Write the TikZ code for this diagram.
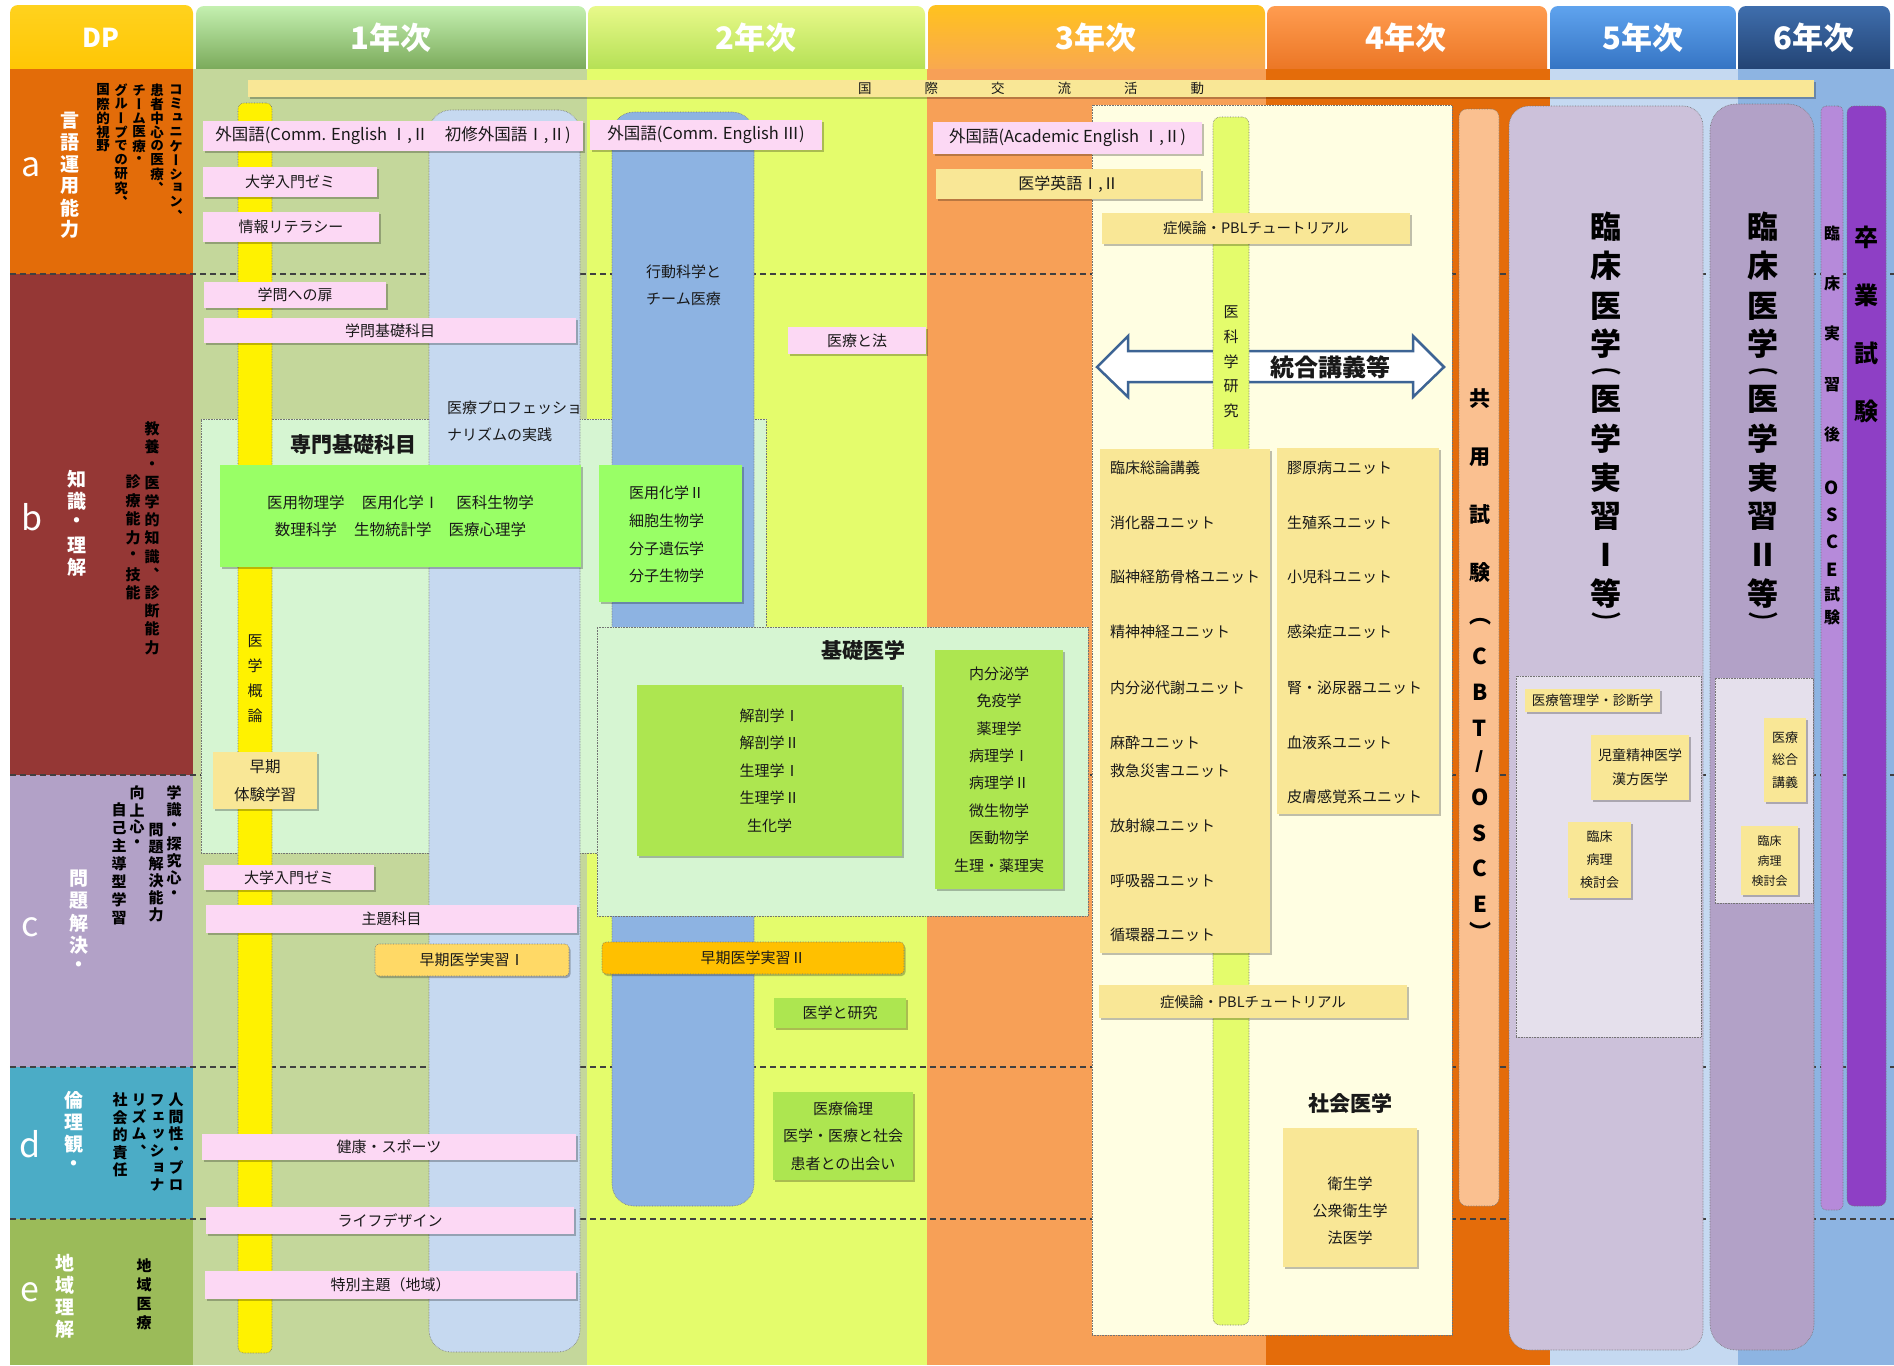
\documentclass[tikz,border=0pt]{standalone}
\usepackage{fontspec}
\setmainfont{Noto Sans CJK JP}
\newfontfamily\jpv[RawFeature={+vert}]{Noto Sans CJK JP}
\usetikzlibrary{shadows}
\definecolor{hDPa}{HTML}{FFD21E}\definecolor{hDPb}{HTML}{FFC400}
\definecolor{hOa}{HTML}{C4F0B0}\definecolor{hOb}{HTML}{6E9E4C}
\definecolor{hTa}{HTML}{E8F98A}\definecolor{hTb}{HTML}{ACDC4C}
\definecolor{hRa}{HTML}{FFC21E}\definecolor{hRb}{HTML}{F8A458}
\definecolor{hFa}{HTML}{FF9C50}\definecolor{hFb}{HTML}{E8701E}
\definecolor{hVa}{HTML}{5FA3EE}\definecolor{hVb}{HTML}{2E6CBC}
\definecolor{hXa}{HTML}{3F6EAD}\definecolor{hXb}{HTML}{1E3C6A}
\definecolor{rA}{HTML}{E36C09}
\definecolor{rB}{HTML}{953735}
\definecolor{rC}{HTML}{B2A1C7}
\definecolor{rD}{HTML}{4BACC6}
\definecolor{rE}{HTML}{9BBB59}
\definecolor{cOne}{HTML}{C4D79B}
\definecolor{cTwo}{HTML}{E4FC6C}
\definecolor{cThree}{HTML}{F7A057}
\definecolor{cFour}{HTML}{E46C0A}
\definecolor{cFive}{HTML}{C5D9F1}
\definecolor{cSix}{HTML}{8DB4E2}
\definecolor{pinkb}{HTML}{FCD8F4}
\definecolor{yelb}{HTML}{F9E796}
\definecolor{grnA}{HTML}{99FF66}
\definecolor{grnB}{HTML}{ADE650}
\definecolor{pnl}{HTML}{D6F5D2}
\definecolor{cream}{HTML}{FFFEE2}
\definecolor{blueA}{HTML}{C6D9F0}
\definecolor{blueB}{HTML}{8DB3E2}
\definecolor{oraA}{HTML}{FFD966}
\definecolor{oraB}{HTML}{FFC000}
\definecolor{peach}{HTML}{FAC090}
\definecolor{lavF}{HTML}{CCC1DA}
\definecolor{lavIn}{HTML}{E5E0EC}
\definecolor{lavS}{HTML}{B2A1C7}
\definecolor{osceC}{HTML}{B68ADA}
\definecolor{gradC}{HTML}{8E3FC5}
\definecolor{arrowc}{HTML}{3D6494}
\tikzset{
 sh/.style={drop shadow={shadow xshift=1.5pt,shadow yshift=-2pt,opacity=0.25,fill=black}},
 tx/.style={inner sep=0pt, text=black!90, align=center},
 bxs/.style={tx, font=\fontsize{15}{27.5}\selectfont},
 pinkbox/.style={bxs, fill=pinkb, sh},
 yelbox/.style={bxs, fill=yelb, sh},
 gAbox/.style={bxs, fill=grnA, sh},
 gBbox/.style={bxs, fill=grnB, sh},
 dotb/.style={draw=black!55, densely dotted, line width=0.6pt},
 pnlbox/.style={fill=pnl, dotb, inner sep=0pt},
 colbox/.style={dotb, inner sep=0pt},
 hdr/.style={inner sep=0pt, text=white, font=\fontsize{31}{31}\selectfont\bfseries},
 letr/.style={inner sep=0pt, text=white, font=\fontsize{34}{34}\selectfont},
 wv/.style={inner sep=0pt, text=white, font=\jpv\bfseries\fontsize{19}{19}\selectfont},
 bva/.style={inner sep=0pt, text=black, font=\jpv\bfseries\fontsize{13.5}{14}\selectfont},
 bvb/.style={inner sep=0pt, text=black, font=\jpv\bfseries\fontsize{15}{16}\selectfont},
 rv/.style={inner sep=0pt, text=black!90, font=\jpv\fontsize{15}{16}\selectfont},
 ttl/.style={inner sep=0pt, text=black!90, font=\fontsize{21}{21}\selectfont\bfseries},
 bigv/.style={inner sep=0pt, text=black, font=\jpv\bfseries\fontsize{31}{31}\selectfont},
 bigp/.style={inner sep=0pt, text=black, font=\jpv\bfseries\fontsize{20}{20}\selectfont},
 cbtv/.style={inner sep=0pt, text=black, font=\jpv\bfseries\fontsize{21}{21}\selectfont},
 cbtl/.style={inner sep=0pt, text=black, font=\jpv\bfseries\fontsize{22}{22}\selectfont},
 oscv/.style={inner sep=0pt, text=black, font=\jpv\bfseries\fontsize{16}{16}\selectfont},
 oscl/.style={inner sep=0pt, text=black, font=\jpv\bfseries\fontsize{18}{18}\selectfont},
 gradv/.style={inner sep=0pt, text=black, font=\jpv\bfseries\fontsize{24}{24}\selectfont},
 tline/.style={inner sep=0pt, text=black!90, font=\fontsize{15}{18}\selectfont},
 engl/.style={font=\fontsize{16.5}{18}\selectfont},
 dashrow/.style={black!75, line width=1.1pt, dash pattern=on 6pt off 4pt},
}
\newcommand\bx[7]{\node[#2, minimum width={(#5-#3)*1pt}, minimum height={(#6-#4)*1pt}] (#1) at ({(#3+#5)/2},{(#4+#6)/2}) {#7};}
\newcommand\vstack[6]{\foreach \ch [count=\vi] in {#6}{\node[#1] (#2\vi) at (#3,{#4+(\vi-1)*#5}) {\ch};}}
\begin{document}
\begin{tikzpicture}[x=1pt,y=-1pt]
\useasboundingbox (0,0) rectangle (1894,1365);
\fill[white] (0,0) rectangle (1894,1365);
% headers
\shade[top color=hDPa,bottom color=hDPb,rounded corners=8pt] (10,5) rectangle (193,80);
\shade[top color=hOa,bottom color=hOb,rounded corners=8pt] (196,6) rectangle (586,80);
\shade[top color=hTa,bottom color=hTb,rounded corners=8pt] (588,6) rectangle (925,80);
\shade[top color=hRa,bottom color=hRb,rounded corners=8pt] (928,5) rectangle (1265,80);
\shade[top color=hFa,bottom color=hFb,rounded corners=8pt] (1267,6) rectangle (1547,80);
\shade[top color=hVa,bottom color=hVb,rounded corners=8pt] (1550,6) rectangle (1736,80);
\shade[top color=hXa,bottom color=hXb,rounded corners=8pt] (1738,6) rectangle (1890,80);
% DP rows
\fill[rA] (10,69) rectangle (193,274);
\fill[rB] (10,274) rectangle (193,775);
\fill[rC] (10,775) rectangle (193,1067);
\fill[rD] (10,1067) rectangle (193,1219);
\fill[rE] (10,1219) rectangle (193,1365);
% year columns
\fill[cOne] (193,69) rectangle (587,1365);
\fill[cTwo] (587,69) rectangle (927,1365);
\fill[cThree] (927,69) rectangle (1266,1365);
\fill[cFour] (1266,69) rectangle (1550,1365);
\fill[cFive] (1550,69) rectangle (1738,1365);
\fill[cSix] (1738,69) rectangle (1894,1365);
\foreach \yy in {274,775,1067,1219} \draw[dashrow] (10,\yy) -- (1894,\yy);
\node[hdr, font=\fontsize{26}{26}\selectfont\bfseries] (hdp) at (101,38) {DP};
\node[hdr] (hy1) at (391,38) {1年次};
\node[hdr] (hy2) at (756,38) {2年次};
\node[hdr] (hy3) at (1096,38) {3年次};
\node[hdr] (hy4) at (1406,38) {4年次};
\node[hdr] (hy5) at (1643,38) {5年次};
\node[hdr] (hy6) at (1814,38) {6年次};
% international bar
\bx{kokusai}{fill=yelb, sh, inner sep=0pt, text=black!90, font=\fontsize{13.5}{13.5}\selectfont}{248}{80}{1814}{97}{国\hspace{53pt}際\hspace{53pt}交\hspace{53pt}流\hspace{53pt}活\hspace{53pt}動}
% panels and columns
\bx{pan1}{pnlbox}{201}{419}{766}{853}{}
\bx{ybar}{colbox, fill=yellow, rounded corners=6pt}{238}{103}{272}{1353}{}
\bx{bcol1}{colbox, fill=blueA, rounded corners=22pt}{429}{110}{580}{1352}{}
\bx{bcol2}{colbox, fill=blueB, rounded corners=22pt}{612}{112}{754}{1206}{}
\bx{pan2}{pnlbox}{597}{627}{1088}{916}{}
\bx{crm}{colbox, fill=cream}{1092}{105}{1452}{1335}{}
\draw[draw=arrowc, line width=2.5pt, fill=white, line join=miter] (1097,367) -- (1128,336) -- (1128,351) -- (1413,351) -- (1413,336) -- (1444,367) -- (1413,397) -- (1413,382) -- (1128,382) -- (1128,397) -- cycle;
\bx{ikk}{colbox, fill=cTwo, rounded corners=7pt}{1213}{117}{1249}{1325}{}
\bx{cbtcol}{colbox, fill=peach, rounded corners=8pt}{1459}{109}{1499}{1206}{}
\bx{lav5col}{colbox, fill=lavF, rounded corners=20pt}{1509}{106}{1703}{1350}{}
\bx{lav5in}{colbox, fill=lavIn}{1516}{676}{1701}{1037}{}
\bx{lav6col}{colbox, fill=lavS, rounded corners=26pt}{1710}{104}{1814}{1350}{}
\bx{lav6in}{colbox, fill=lavIn}{1715}{678}{1813}{903}{}
\bx{oscecol}{colbox, fill=osceC, rounded corners=5pt}{1821}{106}{1843}{1210}{}
\bx{gradcol}{colbox, fill=gradC, rounded corners=7pt}{1847}{106}{1886}{1206}{}
% 1st year boxes
\bx{p1}{pinkbox, engl}{203}{121}{583}{151}{外国語(Comm. English Ⅰ,Ⅱ　初修外国語Ⅰ,Ⅱ)}
\bx{p2}{pinkbox}{203}{167}{377}{197}{大学入門ゼミ}
\bx{p3}{pinkbox}{203}{212}{379}{242}{情報リテラシー}
\bx{p4}{pinkbox}{204}{282}{386}{308}{学問への扉}
\bx{p5}{pinkbox}{204}{318}{576}{343}{学問基礎科目}
\bx{g1}{gAbox, font=\fontsize{15.5}{26.5}\selectfont}{220}{465}{581}{567}{医用物理学\hspace{1.1em}医用化学Ⅰ\hspace{1.1em}医科生物学\\数理科学\hspace{1.1em}生物統計学\hspace{1.1em}医療心理学}
\bx{y1}{yelbox, font=\fontsize{15.5}{28}\selectfont}{213}{752}{317}{809}{早期\\体験学習}
\bx{p6}{pinkbox}{204}{865}{374}{890}{大学入門ゼミ}
\bx{p7}{pinkbox}{206}{905}{577}{933}{主題科目}
\bx{o1}{bxs, fill=oraA, dotb, rounded corners=4pt, sh}{375}{944}{569}{976}{早期医学実習Ⅰ}
\bx{p8}{pinkbox}{202}{1134}{576}{1160}{健康・スポーツ}
\bx{p9}{pinkbox}{206}{1207}{574}{1234}{ライフデザイン}
\bx{p10}{pinkbox}{205}{1271}{576}{1299}{特別主題（地域）}
% 2nd year boxes
\bx{p11}{pinkbox, engl}{590}{120}{822}{150}{外国語(Comm. English Ⅲ)}
\bx{p12}{pinkbox}{788}{327}{926}{354}{医療と法}
\bx{g2}{gAbox}{599}{465}{742}{602}{}
\node[tx, align=left, anchor=west, font=\fontsize{15}{27.6}\selectfont] (g2t) at (629,534.5) {医用化学Ⅱ\\細胞生物学\\分子遺伝学\\分子生物学};
\bx{g3}{gBbox, font=\fontsize{15}{27.5}\selectfont}{637}{685}{902}{856}{解剖学Ⅰ\\解剖学Ⅱ\\生理学Ⅰ\\生理学Ⅱ\\生化学}
\bx{g4}{gBbox, font=\fontsize{15}{27.4}\selectfont}{935}{650}{1063}{889}{内分泌学\\免疫学\\薬理学\\病理学Ⅰ\\病理学Ⅱ\\微生物学\\医動物学\\生理・薬理実}
\bx{o2}{bxs, fill=oraB, dotb, rounded corners=4pt, sh}{602}{942}{904}{974}{早期医学実習Ⅱ}
\bx{g5}{gBbox}{774}{998}{906}{1028}{医学と研究}
\bx{g6}{gBbox, font=\fontsize{15}{27.5}\selectfont}{773}{1092}{913}{1180}{医療倫理\\医学・医療と社会\\患者との出会い}
% 3rd/4th year boxes
\bx{p13}{pinkbox, engl}{933}{122}{1202}{154}{外国語(Academic English Ⅰ,Ⅱ)}
\bx{y2}{yelbox, font=\fontsize{16}{18}\selectfont}{936}{169}{1201}{199}{医学英語Ⅰ,Ⅱ}
\bx{y3}{yelbox, font=\fontsize{14.5}{18}\selectfont}{1102}{213}{1410}{244}{症候論・PBLチュートリアル}
\bx{y4}{yelbox}{1100}{449}{1270}{953}{}
\bx{y5}{yelbox}{1277}{448}{1439}{814}{}
\foreach \t/\yy [count=\vi] in {臨床総論講義/468,消化器ユニット/523,脳神経筋骨格ユニット/577,精神神経ユニット/632,内分泌代謝ユニット/688,麻酔ユニット/743,救急災害ユニット/771,放射線ユニット/826,呼吸器ユニット/881,循環器ユニット/935}
  \node[tline, anchor=west] (ul\vi) at (1110,\yy) {\t};
\foreach \t/\yy [count=\vi] in {膠原病ユニット/468,生殖系ユニット/523,小児科ユニット/577,感染症ユニット/632,腎・泌尿器ユニット/688,血液系ユニット/743,皮膚感覚系ユニット/797}
  \node[tline, anchor=west] (ur\vi) at (1287,\yy) {\t};
\bx{y6}{yelbox, font=\fontsize{14.5}{18}\selectfont}{1099}{985}{1407}{1018}{症候論・PBLチュートリアル}
\bx{y7}{yelbox}{1283}{1128}{1417}{1267}{}
\node[tx, font=\fontsize{15}{27}\selectfont] (y7t) at (1350,1211) {衛生学\\公衆衛生学\\法医学};
% 5th/6th year boxes
\bx{y8}{yelbox, font=\fontsize{13.5}{16}\selectfont}{1525}{689}{1660}{712}{医療管理学・診断学}
\bx{y9}{yelbox, font=\fontsize{14}{24}\selectfont}{1591}{735}{1689}{800}{児童精神医学\\漢方医学}
\bx{y10}{yelbox, font=\fontsize{13}{23}\selectfont}{1568}{822}{1631}{898}{臨床\\病理\\検討会}
\bx{y11}{yelbox, font=\fontsize{13}{22.5}\selectfont}{1764}{718}{1806}{802}{医療\\総合\\講義}
\bx{y12}{yelbox, font=\fontsize{12}{20}\selectfont}{1741}{826}{1798}{895}{臨床\\病理\\検討会}
% titles
\node[ttl] (tsk) at (353,445) {専門基礎科目};
\node[ttl] (tki) at (863,650) {基礎医学};
\node[ttl] (tsh) at (1350,1103) {社会医学};
\node[ttl, font=\fontsize{24}{24}\selectfont\bfseries] (ttg) at (1330,367) {統合講義等};
\node[tline, anchor=west] (mp1) at (447,408) {医療プロフェッショ};
\node[tline, anchor=west] (mp2) at (447,435) {ナリズムの実践};
\node[tline, anchor=west] (kc1) at (646,272) {行動科学と};
\node[tline, anchor=west] (kc2) at (646,299) {チーム医療};
\vstack{rv}{igk}{255}{641}{25}{医,学,概,論}
\vstack{rv}{iks}{1231}{312}{24.8}{医,科,学,研,究}
% vertical labels right side
\vstack{cbtv}{cb}{1480}{399}{58}{共,用,試,験}
\foreach \ch/\yy [count=\vi] in {（/622,C/656,B/692,T/728,O/797,S/833,C/868,E/904,）/931}
  \node[cbtl] (cl\vi) at (1480,\yy) {\ch};
\node[cbtl] (clsl) at (1480,762) {/};
\foreach \ch/\yy [count=\vi] in {臨/227,床/266,医/306,学/344,医/399,学/439,実/478,習/516,Ⅰ/555,等/594}
  \node[bigv] (kf\vi) at (1606,\yy) {\ch};
\node[bigp] (kfpa) at (1606,372) {\scalebox{1.5}[1]{（}};
\node[bigp] (kfpb) at (1606,621) {\scalebox{1.5}[1]{）}};
\foreach \ch/\yy [count=\vi] in {臨/227,床/266,医/306,学/344,医/399,学/439,実/478,習/516,Ⅱ/555,等/594}
  \node[bigv] (ks\vi) at (1763,\yy) {\ch};
\node[bigp] (kspa) at (1763,372) {\scalebox{1.5}[1]{（}};
\node[bigp] (kspb) at (1763,621) {\scalebox{1.5}[1]{）}};
\foreach \ch/\yy [count=\vi] in {臨/233,床/283,実/333,習/385,後/434,試/594,験/617}
  \node[oscv] (os\vi) at (1832,\yy) {\ch};
\foreach \ch/\yy [count=\vi] in {O/488,S/515,C/542,E/570}
  \node[oscl] (ol\vi) at (1832,\yy) {\ch};
\vstack{gradv}{sg}{1866}{237}{58.3}{卒,業,試,験}
% DP column
\node[letr] (la) at (31,167) {a};
\node[letr] (lb) at (32,517) {b};
\node[letr] (lc) at (30,927) {c};
\node[letr] (ld) at (30,1144) {d};
\node[letr] (le) at (30,1292) {e};
\vstack{wv}{wa}{70}{121}{21.7}{言,語,運,用,能,力}
\vstack{bva}{va1}{176}{90}{14}{コ,ミ,ュ,ニ,ケ,ー,シ,ョ,ン,、}
\vstack{bva}{va2}{157}{90}{14}{患,者,中,心,の,医,療,、}
\vstack{bva}{va3}{139}{90}{14}{チ,ー,ム,医,療,・}
\vstack{bva}{va4}{121}{90}{14}{グ,ル,ー,プ,で,の,研,究,、}
\vstack{bva}{va5}{103}{90}{14}{国,際,的,視,野}
\vstack{wv}{wb}{77}{479}{22}{知,識,・,理,解}
\vstack{bvb}{vb1}{152}{429}{18.2}{教,養,・,医,学,的,知,識,、,診,断,能,力}
\vstack{bvb}{vb2}{133}{482}{18.5}{診,療,能,力,・,技,能}
\vstack{wv}{wc}{79}{879}{22}{問,題,解,決,・}
\vstack{bvb}{vc1}{174}{793}{17}{学,識,・,探,究,心,・}
\vstack{bvb}{vc2}{156}{830}{17}{問,題,解,決,能,力}
\vstack{bvb}{vc3}{137}{793}{17}{向,上,心,・}
\vstack{bvb}{vc4}{119}{810}{18}{自,己,主,導,型,学,習}
\vstack{wv}{wd}{74}{1100}{22}{倫,理,観,・}
\vstack{bvb}{vd1}{176}{1100}{17}{人,間,性,・,プ,ロ}
\vstack{bvb}{vd2}{157}{1100}{17}{フ,ェ,ッ,シ,ョ,ナ}
\vstack{bvb}{vd3}{139}{1100}{17}{リ,ズ,ム,、}
\vstack{bvb}{vd4}{120}{1100}{17.5}{社,会,的,責,任}
\vstack{wv}{we}{65}{1263}{22}{地,域,理,解}
\vstack{bvb}{ve1}{144}{1266}{19}{地,域,医,療}
\end{tikzpicture}
\end{document}
